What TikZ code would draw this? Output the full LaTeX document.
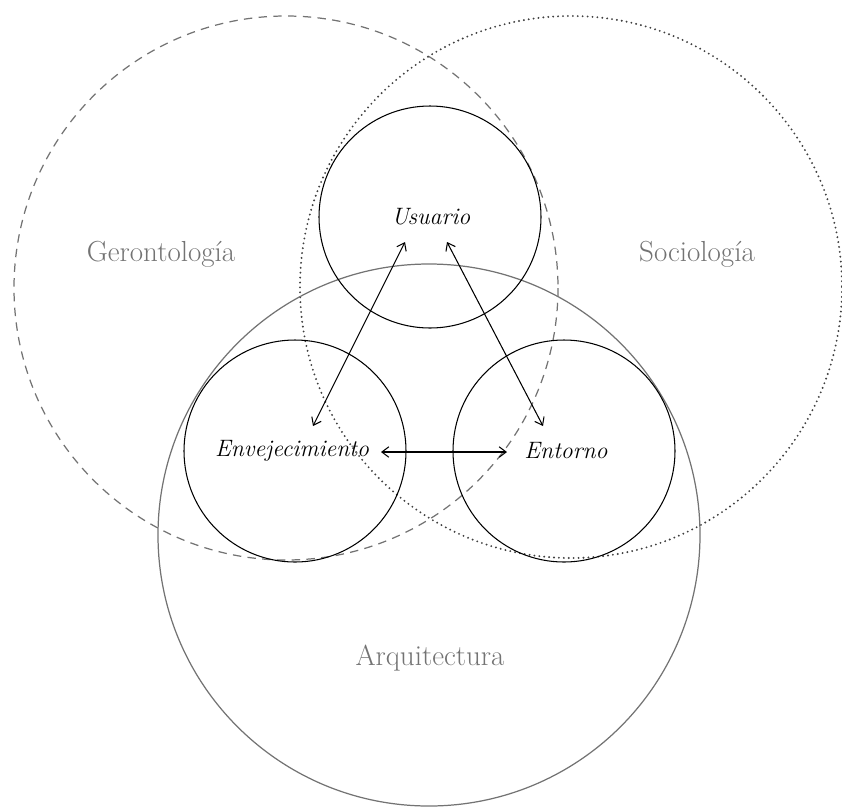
\documentclass[tikz,border=0pt]{standalone}
\usetikzlibrary{arrows.meta}
\begin{document}
\begin{tikzpicture}[x=0.02cm,y=-0.02cm,
  campo/.style={font=\fontsize{16.5}{18}\selectfont,text=black!55},
  tema/.style={font=\fontsize{13.5}{15}\selectfont\itshape},
  >={Straight Barb[length=4pt,width=6pt]}]
  \useasboundingbox (0,0) rectangle (842,809);
  % disciplinas
  \draw[black!55,line width=0.7pt,dash pattern=on 4.8pt off 3.6pt] (286,288) circle (272);
  \draw[black!75,line width=1.2pt,dash pattern=on 0pt off 2.8pt,line cap=round] (571,287) circle (271);
  \draw[black!55,line width=0.7pt] (429,535) circle (271);
  \node[campo] (geron) at (161,254) {Gerontología};
  \node[campo] (socio) at (697,254) {Sociología};
  \node[campo] (arqui) at (430,658) {Arquitectura};
  % conceptos
  \draw[line width=0.6pt] (430,217) circle (111);
  \draw[line width=0.6pt] (295,451) circle (111);
  \draw[line width=0.6pt] (564,451) circle (111);
  \node[tema] (usuario) at (431,217) {Usuario};
  \node[tema] (envej) at (292,451) {Envejecimiento};
  \node[tema] (entorno) at (566,451) {Entorno};
  \coordinate (u1) at (405,242);
  \coordinate (u2) at (447,242);
  \coordinate (e1) at (313,426);
  \coordinate (e2) at (381,452);
  \coordinate (t1) at (543,426);
  \coordinate (t2) at (507,452);
  \draw[<->,line width=0.6pt] (u1) -- (e1);
  \draw[<->,line width=0.6pt] (u2) -- (t1);
  \draw[<->,line width=0.6pt] (e2) -- (t2);
\end{tikzpicture}
\end{document}
